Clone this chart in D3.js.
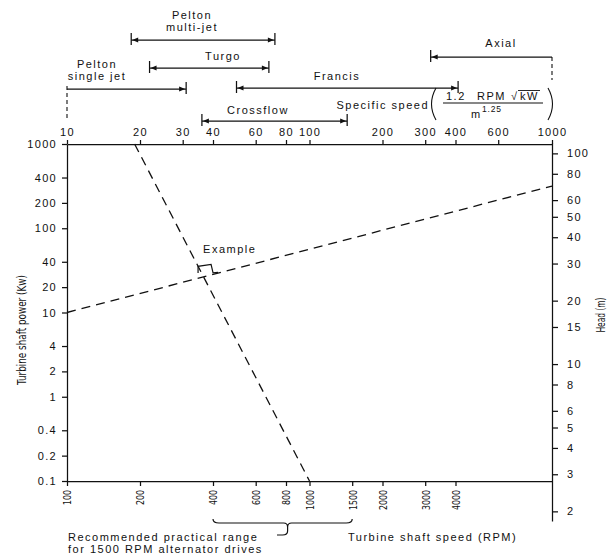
<!DOCTYPE html>
<html><head><meta charset="utf-8">
<script src="https://cdn.jsdelivr.net/npm/d3@7"></script>
<style>
html,body{margin:0;padding:0;background:#fff;}
svg{display:block;}
.t{font-family:"Liberation Sans",Arial,Helvetica,sans-serif;font-size:11px;letter-spacing:1.5px;fill:#111;}
.tk{font-family:"Liberation Sans",Arial,Helvetica,sans-serif;font-size:11px;letter-spacing:1.3px;fill:#111;}
.n{font-family:"Liberation Sans Narrow","DejaVu Sans Condensed","Liberation Sans",sans-serif;fill:#111;letter-spacing:0;}
</style></head><body><svg id="c" width="616" height="556"></svg>
<script>
// ---------------- data ----------------
const specSpeedTicks = [10, 20, 30, 40, 60, 80, 100, 200, 300, 400, 600, 1000];
const powerTicks = [1000, 400, 200, 100, 40, 20, 10, 4, 2, 1, 0.4, 0.2, 0.1];
const headTicks = [100, 80, 60, 50, 40, 30, 20, 15, 10, 8, 6, 5, 4, 3, 2];
const rpmTicks = [100, 200, 400, 600, 800, 1000, 1500, 2000, 3000, 4000];
const turbineNames = [["Pelton", "multi-jet"], ["Turgo"], ["Pelton", "single jet"], ["Francis"], ["Crossflow"], ["Axial"]];
const rangeLow = [18.4, 21.9, 10, 50, 36, 316];
const rangeHigh = [72, 68, 31, 410, 143, 1000];
const exampleSpecSpeed = 19, exampleRpm = 1000, examplePower = 10, exampleHead = 70;
const recommendedRpm = [400, 1500];

// ---------------- layout ----------------
const barY = [40, 68, 89, 88, 121, 57];
const labelPos = [[192, 19], [223, 60], [97, 68], [337, 80], [258, 114], [501, 47]];
const dashLeft = [0, 0, 31, 0, 0, 0];
const dashRight = [0, 0, 0, 0, 0, 23];
const ink = "#111";

const svg = d3.select("#c");
const L = 67, R = 552, T = 144, B = 481;
const xTop = d3.scaleLog().domain([10, 1000]).range([L, R]);
const xBot = d3.scaleLog().domain([100, 10000]).range([L, R]);
const yPow = d3.scaleLog().domain([0.1, 1000]).range([B, T]);
const yHead = d3.scaleLog().domain([1.8, 112]).range([521, 143]);
const fmt = d => String(d);

function styleAxis(g, cls) {
  g.attr("font-family", null).attr("font-size", null);
  g.selectAll("path,line").attr("stroke", ink).attr("stroke-width", 1.25);
  g.selectAll("text").attr("class", cls);
}

const gTop = svg.append("g").attr("transform", `translate(0,${T})`)
  .call(d3.axisTop(xTop).tickValues(specSpeedTicks).tickFormat(fmt).tickSizeInner(4).tickSizeOuter(0).tickPadding(4));
styleAxis(gTop, "tk");

const gLeft = svg.append("g").attr("transform", `translate(${L},0)`)
  .call(d3.axisLeft(yPow).tickValues(powerTicks).tickFormat(fmt).tickSizeInner(5).tickSizeOuter(0).tickPadding(5));
styleAxis(gLeft, "tk");

const gBot = svg.append("g").attr("transform", `translate(0,${B})`)
  .call(d3.axisBottom(xBot).tickValues(rpmTicks).tickFormat(fmt).tickSizeInner(5).tickSizeOuter(0));
styleAxis(gBot, "n");
gBot.selectAll("text").attr("transform", "rotate(-90)").attr("text-anchor", "end")
  .attr("x", -9).attr("y", 0).attr("dy", "0.35em").style("font-size", "11px")
  .attr("textLength", d => String(d).length * 5).attr("lengthAdjust", "spacingAndGlyphs");

const gRight = svg.append("g").attr("transform", `translate(${R},0)`)
  .call(d3.axisRight(yHead).tickValues(headTicks).tickFormat(fmt).tickSizeInner(6).tickSizeOuter(0).tickPadding(9));
styleAxis(gRight, "tk");

// axis titles
svg.append("text").attr("class", "n").style("font-size", "12.5px")
  .attr("transform", "translate(22,330) rotate(-90)").attr("text-anchor", "middle").attr("dy", "0.35em")
  .attr("textLength", 110).attr("lengthAdjust", "spacingAndGlyphs")
  .text("Turbine shaft power (Kw)");
svg.append("text").attr("class", "n").style("font-size", "12px")
  .attr("transform", "translate(601,315) rotate(-90)").attr("text-anchor", "middle").attr("dy", "0.35em")
  .attr("textLength", 35).attr("lengthAdjust", "spacingAndGlyphs")
  .text("Head (m)");
svg.append("text").attr("class", "t").attr("x", 348).attr("y", 541).text("Turbine shaft speed (RPM)");
svg.append("text").attr("class", "t").attr("x", 68).attr("y", 541).text("Recommended practical range");
svg.append("text").attr("class", "t").attr("x", 68).attr("y", 553).text("for 1500 RPM alternator drives");

// recommended range brace
{
  const x1 = xBot(recommendedRpm[0]), x2 = xBot(recommendedRpm[1]);
  const mid = (x1 + x2) / 2 + 5, y0 = 519, y1 = 523;
  const p = d3.path();
  p.moveTo(x1, y0); p.quadraticCurveTo(x1, y1, x1 + 6, y1); p.lineTo(mid - 4, y1);
  p.quadraticCurveTo(mid, y1, mid, y1 + 4); p.lineTo(mid, y1 + 8);
  p.quadraticCurveTo(mid, y1 + 12, mid - 5, y1 + 12); p.lineTo(277, y1 + 12);
  p.moveTo(mid, y1 + 4); p.quadraticCurveTo(mid, y1, mid + 4, y1); p.lineTo(x2 - 6, y1);
  p.quadraticCurveTo(x2, y1, x2, y0);
  svg.append("path").attr("d", p.toString()).attr("fill", "none").attr("stroke", ink).attr("stroke-width", 1.2);
}

// turbine range bars
turbineNames.forEach((lines, i) => {
  const x1 = xTop(rangeLow[i]), x2 = xTop(rangeHigh[i]), y = barY[i];
  const g = svg.append("g");
  g.append("line").attr("x1", x1).attr("x2", x2).attr("y1", y).attr("y2", y).attr("stroke", ink).attr("stroke-width", 1.25);
  if (dashLeft[i]) {
    g.append("line").attr("x1", x1).attr("x2", x1).attr("y1", y - 3).attr("y2", y + dashLeft[i])
      .attr("stroke", ink).attr("stroke-width", 1.1).attr("stroke-dasharray", "4,3");
  } else {
    g.append("line").attr("x1", x1).attr("x2", x1).attr("y1", y - 7).attr("y2", y + 5).attr("stroke", ink).attr("stroke-width", 1.25);
    g.append("path").attr("d", `M${x1 + 1},${y}L${x1 + 7},${y - 2.5}L${x1 + 7},${y + 2.5}Z`).attr("fill", ink);
  }
  if (dashRight[i]) {
    g.append("line").attr("x1", x2).attr("x2", x2).attr("y1", y).attr("y2", y + dashRight[i])
      .attr("stroke", ink).attr("stroke-width", 1.1).attr("stroke-dasharray", "4,3");
  } else {
    g.append("line").attr("x1", x2).attr("x2", x2).attr("y1", y - 7).attr("y2", y + 5).attr("stroke", ink).attr("stroke-width", 1.25);
    g.append("path").attr("d", `M${x2 - 1},${y}L${x2 - 7},${y - 2.5}L${x2 - 7},${y + 2.5}Z`).attr("fill", ink);
  }
  lines.forEach((s, k) => {
    g.append("text").attr("class", "t").attr("text-anchor", "middle")
      .attr("x", labelPos[i][0]).attr("y", labelPos[i][1] + k * 12).text(s);
  });
});

// specific speed formula
{
  const g = svg.append("g");
  g.append("text").attr("class", "t").attr("text-anchor", "end").attr("x", 429).attr("y", 109).text("Specific speed");
  g.append("path").attr("d", "M436,88Q427,104 436,120").attr("fill", "none").attr("stroke", ink).attr("stroke-width", 1.1);
  g.append("path").attr("d", "M548,88Q557,104 548,120").attr("fill", "none").attr("stroke", ink).attr("stroke-width", 1.1);
  g.append("text").attr("class", "t").attr("x", 446).attr("y", 100).text("1.2");
  g.append("text").attr("class", "t").attr("x", 477).attr("y", 100).text("RPM");
  g.append("text").attr("class", "t").attr("x", 511).attr("y", 100).text("√");
  g.append("text").attr("class", "t").attr("x", 520).attr("y", 100).text("kW");
  g.append("line").attr("x1", 518).attr("x2", 540).attr("y1", 90.5).attr("y2", 90.5).attr("stroke", ink).attr("stroke-width", 0.9);
  g.append("line").attr("x1", 443).attr("x2", 543).attr("y1", 103).attr("y2", 103).attr("stroke", ink).attr("stroke-width", 1.1);
  g.append("text").attr("class", "t").attr("x", 471).attr("y", 118).text("m");
  g.append("text").attr("class", "t").style("font-size", "8.5px").style("letter-spacing", "0.8px").attr("x", 482).attr("y", 112).text("1.25");
}

// example dashed lines
const p1 = [xTop(exampleSpecSpeed), T], p2 = [xBot(exampleRpm), B];
const q1 = [L, yPow(examplePower)], q2 = [R, yHead(exampleHead)];
svg.append("line").attr("x1", p1[0]).attr("y1", p1[1]).attr("x2", p2[0]).attr("y2", p2[1])
  .attr("stroke", ink).attr("stroke-width", 1.3).attr("stroke-dasharray", "9,6");
svg.append("line").attr("x1", q1[0]).attr("y1", q1[1]).attr("x2", q2[0]).attr("y2", q2[1])
  .attr("stroke", ink).attr("stroke-width", 1.3).attr("stroke-dasharray", "9,6");

// intersection & example marker
{
  const d1x = p2[0] - p1[0], d1y = p2[1] - p1[1], d2x = q2[0] - q1[0], d2y = q2[1] - q1[1];
  const den = d1x * d2y - d1y * d2x;
  const t = ((q1[0] - p1[0]) * d2y - (q1[1] - p1[1]) * d2x) / den;
  const ix = p1[0] + t * d1x, iy = p1[1] + t * d1y;
  const off = [[-5.5, -4], [-5.5, -10.5], [7.5, -12.5], [9.5, -4], [14.5, -4.5]];
  svg.append("path").attr("d", d3.line()(off.map(o => [ix + o[0], iy + o[1]])))
    .attr("fill", "none").attr("stroke", ink).attr("stroke-width", 1.2);
  svg.append("text").attr("class", "t").attr("x", ix - 0.5).attr("y", iy - 24).text("Example");
}
</script></body></html>
